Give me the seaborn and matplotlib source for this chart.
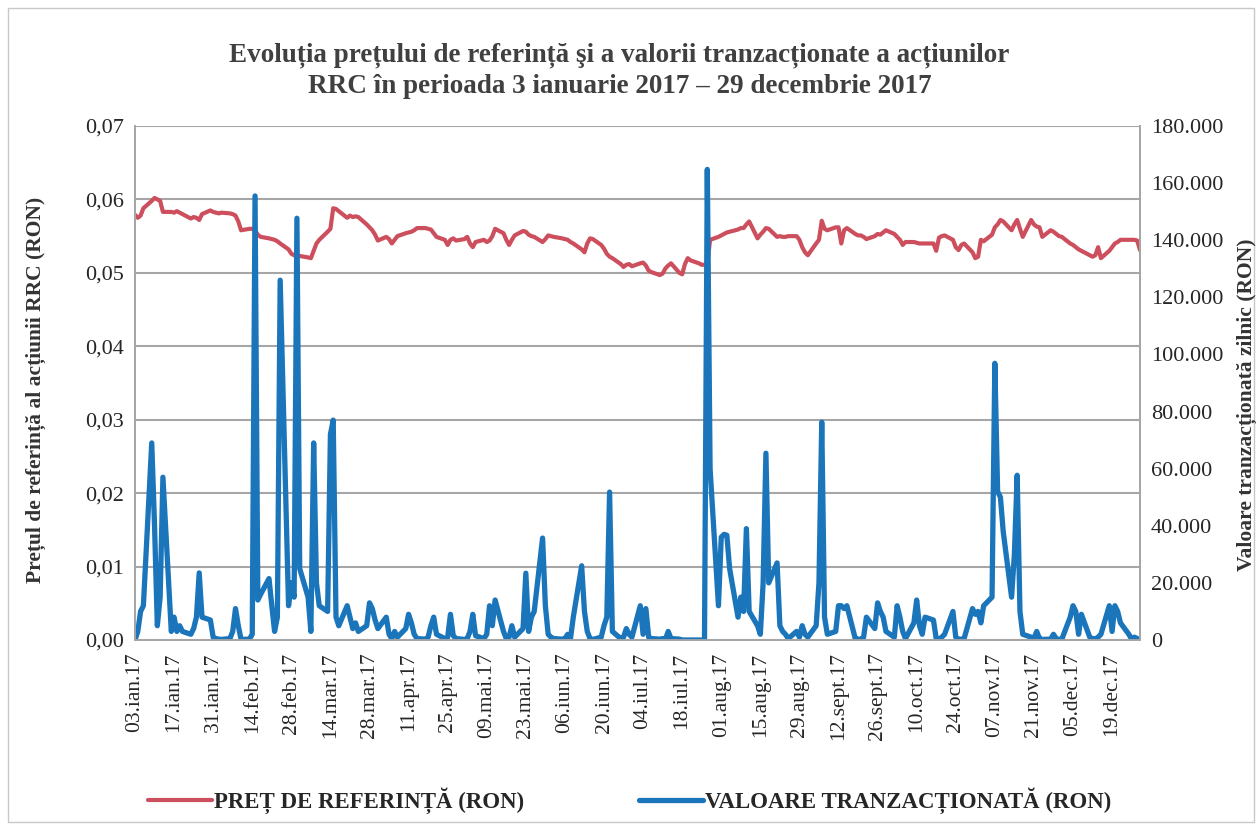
import pandas as pd
import seaborn as sns
import matplotlib.pyplot as plt
from matplotlib.ticker import FuncFormatter, MultipleLocator
from matplotlib.patches import Rectangle

# -------------------- DATE --------------------
# pretul de referinta (RON), cate o valoare pe zi lucratoare
pret_ian = [0.0579, 0.0575, 0.0578, 0.0588,
            0.0598, 0.0602, 0.0600, 0.0598, 0.0583,
            0.0583, 0.0582, 0.0584, 0.0582, 0.0580,
            0.0574, 0.0576, 0.0575, 0.0572, 0.0580,
            0.0585, 0.0583]
pret_feb = [0.0582, 0.0581, 0.0582,
            0.0581, 0.0580, 0.0578, 0.0570, 0.0558,
            0.0560, 0.0560, 0.0558, 0.0552, 0.0549,
            0.0547, 0.0546, 0.0545, 0.0543, 0.0540,
            0.0532, 0.0526]
pret_mar = [0.0524, 0.0522, 0.0523,
            0.0521, 0.0520, 0.0530, 0.0540, 0.0545,
            0.0556, 0.0560, 0.0588, 0.0587, 0.0584,
            0.0575, 0.0578, 0.0576, 0.0577, 0.0576,
            0.0566, 0.0562, 0.0558, 0.0552, 0.0544]
pret_apr = [0.0549, 0.0546, 0.0540, 0.0545, 0.0550,
            0.0554, 0.0555, 0.0556, 0.0558, 0.0561,
            0.0561, 0.0560, 0.0559, 0.0554, 0.0549,
            0.0545, 0.0538, 0.0545, 0.0547, 0.0544]
pret_mai = [0.0546, 0.0549, 0.0540, 0.0535, 0.0542,
            0.0545, 0.0542, 0.0544, 0.0550, 0.0560,
            0.0554, 0.0545, 0.0538, 0.0545, 0.0551,
            0.0557, 0.0556, 0.0552, 0.0550, 0.0549,
            0.0542, 0.0546, 0.0551]
pret_iun = [0.0550, 0.0549,
            0.0547, 0.0546, 0.0545, 0.0542, 0.0540,
            0.0532, 0.0528, 0.0540, 0.0547, 0.0546,
            0.0538, 0.0533, 0.0526, 0.0522, 0.0520,
            0.0512, 0.0508, 0.0511, 0.0512, 0.0509]
pret_iul = [0.0513, 0.0514, 0.0510, 0.0503, 0.0501,
            0.0497, 0.0499, 0.0506, 0.0510, 0.0513,
            0.0500, 0.0498, 0.0512, 0.0520, 0.0517,
            0.0513, 0.0511, 0.0511, 0.0512, 0.0545,
            0.0549]
pret_aug = [0.0551, 0.0553, 0.0555, 0.0556,
            0.0559, 0.0561, 0.0561, 0.0566, 0.0570,
            0.0547, 0.0552, 0.0556, 0.0561, 0.0560,
            0.0549, 0.0550, 0.0549, 0.0549, 0.0550,
            0.0550, 0.0545, 0.0535, 0.0528]
pret_sep = [0.0524,
            0.0540, 0.0545, 0.0571, 0.0560, 0.0558,
            0.0562, 0.0562, 0.0540, 0.0558, 0.0561,
            0.0553, 0.0551, 0.0551, 0.0549, 0.0546,
            0.0550, 0.0553, 0.0552, 0.0555, 0.0558]
pret_oct = [0.0553, 0.0549, 0.0545, 0.0538, 0.0542,
            0.0542, 0.0541, 0.0540, 0.0540, 0.0540,
            0.0540, 0.0530, 0.0548, 0.0550, 0.0551,
            0.0545, 0.0535, 0.0531, 0.0538, 0.0540,
            0.0528, 0.0520]
pret_noi = [0.0522, 0.0545, 0.0543,
            0.0552, 0.0562, 0.0566, 0.0572, 0.0570,
            0.0558, 0.0566, 0.0572, 0.0560, 0.0549,
            0.0572, 0.0566, 0.0563, 0.0562, 0.0549,
            0.0558, 0.0556, 0.0553, 0.0550]
pret_dec = [0.0549,
            0.0540, 0.0538, 0.0535, 0.0532, 0.0530,
            0.0524, 0.0522, 0.0524, 0.0535, 0.0520,
            0.0530, 0.0535, 0.0540, 0.0542, 0.0545,
            0.0545, 0.0545, 0.0545, 0.0544, 0.0531]

# valoarea tranzactionata zilnic (RON)
valoare_ian = [0, 3000, 10000, 12000,
               69000, 40000, 5000, 15000, 57000,
               3000, 8000, 3000, 5000, 3000,
               2000, 4000, 8000, 23500, 8000,
               7000, 1000]
valoare_feb = [500, 300, 200,
               500, 3000, 11000, 5000, 200,
               300, 2000, 155500, 14000, 16000,
               21500, 12000, 3000, 8000, 126000,
               12000, 20000]
valoare_mar = [15000, 147700, 25000,
               15000, 3000, 69000, 20000, 12000,
               10000, 72000, 77000, 8000, 5000,
               12000, 8000, 4000, 6000, 3000,
               5000, 13000, 11000, 7000, 4000]
valoare_apr = [8000, 2000, 500, 3000, 1000,
               4000, 9000, 6000, 2000, 500,
               300, 1000, 5000, 8000, 2000,
               500, 1000, 9000, 1500, 500]
valoare_mai = [200, 500, 3000, 9000, 1500,
               500, 2000, 12000, 5000, 14000,
               3000, 500, 1000, 5000, 1000,
               4000, 23400, 3000, 8000, 10000,
               35700, 12000, 2000]
valoare_iun = [1000, 500,
               300, 500, 2000, 500, 8000,
               26000, 10000, 3000, 500, 200,
               1000, 5000, 8000, 51800, 3000,
               500, 1000, 4000, 2000, 1000]
valoare_iul = [12000, 2000, 11000, 1000, 500,
               300, 500, 200, 3000, 500,
               300, 0, 0, 0, 0,
               0, 0, 0, 164800, 60000,
               12000]
valoare_aug = [36000, 37000, 36700, 25000,
               8000, 15000, 10000, 39000, 10000,
               5000, 2000, 20000, 65400, 20000,
               27000, 5000, 3000, 2000, 500,
               3000, 1000, 5000, 2000]
valoare_sep = [1000,
               5000, 20000, 76300, 8000, 2000,
               3000, 12000, 12000, 11000, 12000,
               500, 300, 200, 1000, 8000,
               4000, 13000, 10000, 8000, 3000]
valoare_oct = [1000, 12000, 8000, 3000, 500,
               6000, 14000, 5000, 2000, 8000,
               7000, 500, 300, 1000, 2000,
               10000, 1000, 200, 300, 500,
               11000, 9000]
valoare_noi = [10000, 6000, 12000,
               15000, 96900, 52000, 50000, 38000,
               15000, 30000, 57700, 10000, 2000,
               1000, 500, 3000, 500, 200,
               300, 2000, 500, 200]
valoare_dec = [300,
               8000, 12000, 10000, 2000, 9000,
               1000, 500, 300, 1000, 2000,
               12000, 3000, 12000, 10000, 6000,
               2000, 300, 1000, 500, 200]

etichete_x = ["03.ian.17", "17.ian.17", "31.ian.17", "14.feb.17", "28.feb.17",
              "14.mar.17", "28.mar.17", "11.apr.17", "25.apr.17", "09.mai.17",
              "23.mai.17", "06.iun.17", "20.iun.17", "04.iul.17", "18.iul.17",
              "01.aug.17", "15.aug.17", "29.aug.17", "12.sept.17", "26.sept.17",
              "10.oct.17", "24.oct.17", "07.nov.17", "21.nov.17", "05.dec.17",
              "19.dec.17"]

# -------------------- TABEL --------------------
zile = pd.bdate_range("2017-01-03", "2017-12-29")
pret = (pret_ian + pret_feb + pret_mar + pret_apr + pret_mai + pret_iun +
        pret_iul + pret_aug + pret_sep + pret_oct + pret_noi + pret_dec)
valoare = (valoare_ian + valoare_feb + valoare_mar + valoare_apr + valoare_mai +
           valoare_iun + valoare_iul + valoare_aug + valoare_sep + valoare_oct +
           valoare_noi + valoare_dec)
assert len(zile) == len(pret) == len(valoare), (len(zile), len(pret), len(valoare))
df = pd.DataFrame({"Data": zile, "Pret": pret, "Valoare": valoare})

# -------------------- GRAFIC --------------------
sns.set_style("white")
plt.rcParams["font.family"] = ["Liberation Serif", "DejaVu Serif"]

rosu = "#CD4F5D"
albastru = "#1B75BB"
gri = "#A6A6A6"

fig = plt.figure(figsize=(12.59, 8.25), dpi=100)
ax = fig.add_axes([135 / 1259, 1 - 640 / 825, 1005 / 1259, 514 / 825])
ax2 = ax.twinx()

sns.lineplot(data=df, x="Data", y="Pret", ax=ax, color=rosu, linewidth=3,
             errorbar=None, label="PREȚ DE REFERINȚĂ (RON)", legend=False)
sns.lineplot(data=df, x="Data", y="Valoare", ax=ax2, color=albastru, linewidth=3.8,
             errorbar=None, label="VALOARE TRANZACȚIONATĂ (RON)", legend=False)

ax.set_xlim(pd.Timestamp("2017-01-03"), pd.Timestamp("2017-12-29"))
ax.set_ylim(0, 0.07)
ax2.set_ylim(0, 180000)
ax.yaxis.set_major_locator(MultipleLocator(0.01))
ax2.yaxis.set_major_locator(MultipleLocator(20000))
ax.yaxis.set_major_formatter(FuncFormatter(lambda v, p: f"{v:.2f}".replace(".", ",")))
ax2.yaxis.set_major_formatter(FuncFormatter(lambda v, p: f"{int(round(v)):,}".replace(",", ".")))

tick_dates = pd.date_range("2017-01-03", periods=len(etichete_x), freq="14D")
ax.set_xticks(tick_dates)
ax.set_xticklabels(etichete_x, rotation=90, fontsize=15.5)
ax.tick_params(axis="x", length=5, width=1, color=gri, pad=4)
ax.tick_params(axis="y", length=0, labelsize=16, pad=8)
ax2.tick_params(axis="y", length=0, labelsize=16, pad=8)

ax.yaxis.grid(True, color=gri, linewidth=1.5)
ax.set_axisbelow(True)
for a in (ax, ax2):
    a.spines["top"].set_visible(False)
    for s in ("left", "right", "bottom"):
        a.spines[s].set_color(gri)
        a.spines[s].set_linewidth(1.3)
ax.set_xlabel("")
ax.set_ylabel("")
ax2.set_ylabel("")

# titlu si etichete axe
fig.text(0.492, 1 - 71 / 825,
         "Evoluția prețului de referință şi a valorii tranzacționate a acțiunilor\n"
         "RRC în perioada 3 ianuarie 2017 – 29 decembrie 2017",
         ha="center", va="center", fontsize=19.5, fontweight="bold",
         color="#404040", linespacing=1.3)
fig.text(36 / 1259, 1 - 390 / 825, "Prețul de referință al acțiunii RRC (RON)",
         rotation=90, ha="center", va="center", fontsize=15.5, fontweight="bold",
         color="#333333")
fig.text(1247 / 1259, 1 - 405 / 825, "Valoare tranzacționată zilnic (RON)",
         rotation=90, ha="center", va="center", fontsize=15.5, fontweight="bold",
         color="#333333")

h1, l1 = ax.get_legend_handles_labels()
h2, l2 = ax2.get_legend_handles_labels()
fig.legend(h1 + h2, l1 + l2, loc="center", bbox_to_anchor=(0.5, 1 - 801 / 825),
           ncol=2, frameon=False, handlelength=2.8, handletextpad=0.1,
           columnspacing=5, prop={"weight": "bold", "size": 16.5})

# chenarul graficului
fig.patches.append(Rectangle((8 / 1259, 3 / 825), 1246 / 1259, 814 / 825,
                             transform=fig.transFigure, fill=False,
                             edgecolor="#C8C8C8", linewidth=1))

fig.savefig("out.png", dpi=100)
print("gata")
